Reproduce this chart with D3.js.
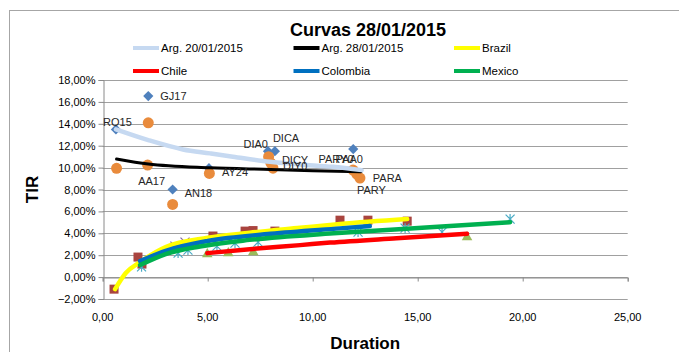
<!DOCTYPE html>
<html><head><meta charset="utf-8">
<script src="https://cdn.jsdelivr.net/npm/d3@7"></script>
<style>body{margin:0;background:#fff}svg{display:block}text{font-family:"Liberation Sans",Arial,sans-serif}</style>
</head><body>
<script>
// ---------- data ----------
const title = "Curvas 28/01/2015";
const xTicks = [0, 5, 10, 15, 20, 25];
const yTicks = [-2, 0, 2, 4, 6, 8, 10, 12, 14, 16, 18];

// Argentina bonds (diamonds, labelled) - duration, TIR %
const bondNames = ["RO15","GJ17","AA17","AN18","AY24","DIA0","DICA","DICY","DIY0","PARY0","PAA0","PARA","PARY"];
const bondDur   = [0.63, 2.17, 2.14, 3.33, 5.06, 7.87, 8.20, 8.01, 8.11, 11.92, 11.93, 12.10, 12.25];
const bondTir   = [13.49,16.53,10.23, 8.00, 9.95,11.50,11.50,10.40, 9.95, 9.77, 11.69, 9.40, 9.04];
// Argentina bonds 28/01 (circles)
const arg2Dur = [0.66, 2.17, 2.14, 3.33, 5.08, 7.90, 8.01, 8.11, 11.92, 12.10, 12.25];
const arg2Tir = [9.93, 14.09, 10.23, 6.64, 9.47, 11.00, 10.40, 9.95, 9.77, 9.40, 9.04];

// regional bonds
const brazilDur = [0.54, 1.68, 1.87, 3.50, 5.25, 6.78, 7.16, 8.20, 11.30, 12.63, 14.50];
const brazilTir = [-1.10, 1.83, 1.19, 2.70, 3.75, 4.20, 4.25, 4.20, 5.20, 5.20, 5.11];
const chileDur = [4.98, 5.98, 7.17, 17.35];
const chileTir = [2.10, 2.19, 2.28, 3.65];
const colombiaDur = [3.44, 3.92];
const colombiaTir = [2.83, 3.20];
const mexicoDur = [1.85, 3.59, 4.06, 5.44, 6.30, 7.40, 12.16, 14.40, 16.16, 19.40];
const mexicoTir = [0.94, 2.19, 2.47, 2.83, 3.10, 3.20, 4.11, 4.47, 4.11, 5.30];

// trend curves
const trendArg1Dur = [0.63, 2.17, 3.82, 5.11, 6.20, 7.97, 9.40, 10.96, 12.33];
const trendArg1Tir = [13.49, 12.51, 11.66, 11.30, 11.00, 10.53, 10.29, 10.07, 9.77];
const trendArg2Dur = [0.66, 2.17, 5.10, 8.00, 10.00, 12.30];
const trendArg2Tir = [10.78, 10.32, 9.98, 9.83, 9.72, 9.62];
const trendBrazilDur = [0.59, 1.10, 1.78, 3.00, 5.00, 7.00, 9.40, 11.30, 14.50];
const trendBrazilTir = [-1.10, 0.37, 1.37, 2.75, 3.60, 4.05, 4.50, 4.85, 5.30];
const trendChileDur = [4.98, 7.00, 9.40, 10.83, 14.00, 17.35];
const trendChileTir = [2.19, 2.55, 2.92, 3.15, 3.55, 3.95];
const trendColDur = [1.78, 3.00, 5.00, 8.00, 11.30, 12.72];
const trendColTir = [1.46, 2.40, 3.30, 3.95, 4.45, 4.66];
const trendMexDur = [1.78, 3.00, 4.63, 7.00, 11.00, 15.58, 19.40];
const trendMexTir = [1.10, 2.10, 2.80, 3.40, 4.00, 4.55, 5.02];

const legendNames = ["Arg. 20/01/2015","Arg. 28/01/2015","Brazil","Chile","Colombia","Mexico"];

// ---------- styles ----------
const labelOffsets = [[1.5,-7,"middle"],[12,0,"start"],[4,16,"middle"],[12,3,"start"],[13,4,"start"],
  [0,-7,"end"],[-2,-13,"start"],[11,-3,"start"],[10,-2,"start"],[-17,-11,"middle"],[-4,10,"middle"],
  [16,4,"start"],[11.5,12,"middle"]];
const legendColors = ["#C6D9F1","#000000","#FFFF00","#FF0000","#0070C0","#00B050"];
const W = 679, H = 352;

const svg = d3.select("body").append("svg").attr("width", W).attr("height", H);
svg.append("rect").attr("x",9.5).attr("y",10.5).attr("width",760).attr("height",400)
  .attr("fill","#fff").attr("stroke","#a6a6a6");

const x = d3.scaleLinear().domain([0,25]).range([102.7,627.7]);
const y = d3.scaleLinear().domain([-2,18]).range([299,80]);

// gridlines
svg.append("g").selectAll("line").data(yTicks).join("line")
  .attr("x1",x(0)).attr("x2",x(25)).attr("y1",d=>Math.round(y(d))+0.5).attr("y2",d=>Math.round(y(d))+0.5)
  .attr("stroke","#a0a0a0").attr("stroke-width",1);

// y axis
const fmt = d => d3.format(".2f")(d).replace(".", ",");
const yAxis = svg.append("g").attr("transform",`translate(${Math.round(x(0))+0.5},0)`)
  .call(d3.axisLeft(y).tickValues(yTicks).tickSize(5).tickPadding(3).tickFormat(d=>fmt(d)+"%"));
yAxis.selectAll("path,line").attr("stroke","#8a8a8a");
yAxis.selectAll("text").attr("font-size",11).attr("fill","#000").style("font-family",'"Liberation Sans",Arial,sans-serif');

// x axis at 0 with tick marks; labels at bottom
const xAxis = svg.append("g").attr("transform",`translate(0,${Math.round(y(0))+0.5})`)
  .call(d3.axisBottom(x).tickValues(xTicks).tickSize(4).tickFormat(""));
xAxis.selectAll("path,line").attr("stroke","#8a8a8a");
svg.append("g").selectAll("text").data(xTicks).join("text")
  .attr("x",d=>x(d)).attr("y",y(-2)+22).attr("text-anchor","middle")
  .attr("font-size",11).attr("fill","#000").text(d=>fmt(d));

// axis titles
svg.append("text").attr("x",(x(0)+x(25))/2).attr("y",349).attr("text-anchor","middle")
  .attr("font-size",17).attr("font-weight","bold").text("Duration");
svg.append("text").attr("transform",`translate(38,${(y(-2)+y(18))/2}) rotate(-90)`).attr("text-anchor","middle")
  .attr("font-size",17).attr("font-weight","bold").text("TIR");

// title
svg.append("text").attr("x",368).attr("y",36).attr("text-anchor","middle")
  .attr("font-size",18).attr("font-weight","bold").text(title);

// legend
legendNames.forEach((n,i)=>{
  const col = i%3, row = Math.floor(i/3);
  const lx = 133 + col*160.5, ly = 48 + row*23;
  svg.append("line").attr("x1",lx).attr("x2",lx+26).attr("y1",ly).attr("y2",ly)
    .attr("stroke",legendColors[i]).attr("stroke-width",4);
  svg.append("text").attr("x",lx+28).attr("y",ly+4).attr("font-size",11.5).attr("fill","#000").text(n);
});

const plot = svg.append("g");
const zip = (a,b)=>a.map((v,i)=>[v,b[i]]);

// markers: diamonds (Arg)
plot.append("g").selectAll("path").data(zip(bondDur,bondTir)).join("path")
  .attr("d", d3.symbol(d3.symbolSquare, 52)())
  .attr("transform",d=>`translate(${x(d[0])},${y(d[1])}) rotate(45)`)
  .attr("fill","#4F81BD");
// circles
plot.append("g").selectAll("circle").data(zip(arg2Dur,arg2Tir)).join("circle")
  .attr("cx",d=>x(d[0])).attr("cy",d=>y(d[1])).attr("r",5.5).attr("fill","#E98B3C");
// Brazil squares
plot.append("g").selectAll("rect").data(zip(brazilDur,brazilTir)).join("rect")
  .attr("x",d=>x(d[0])-4.5).attr("y",d=>y(d[1])-4.5).attr("width",9).attr("height",9).attr("fill","#A9443F");
// Chile triangles
plot.append("g").selectAll("path").data(zip(chileDur,chileTir)).join("path")
  .attr("d", d3.symbol(d3.symbolTriangle, 48)())
  .attr("transform",d=>`translate(${x(d[0])},${y(d[1])})`).attr("fill","#9BBB59");
// Colombia X
plot.append("g").selectAll("path").data(zip(colombiaDur,colombiaTir)).join("path")
  .attr("d","M-4.5,-4.5L4.5,4.5M-4.5,4.5L4.5,-4.5")
  .attr("transform",d=>`translate(${x(d[0])},${y(d[1])})`).attr("stroke","#8064A2").attr("stroke-width",1.2).attr("fill","none");
// Mexico asterisks
plot.append("g").selectAll("path").data(zip(mexicoDur,mexicoTir)).join("path")
  .attr("d","M-4.5,-4.5L4.5,4.5M-4.5,4.5L4.5,-4.5M0,-5L0,5")
  .attr("transform",d=>`translate(${x(d[0])},${y(d[1])})`).attr("stroke","#4BACC6").attr("stroke-width",1.2).attr("fill","none");

// trend curves
const line = d3.line().x(d=>x(d[0])).y(d=>y(d[1])).curve(d3.curveMonotoneX);
const trends = [
  [trendArg2Dur,trendArg2Tir,legendColors[1],3],
  [trendArg1Dur,trendArg1Tir,legendColors[0],4.5],
  [trendBrazilDur,trendBrazilTir,legendColors[2],4.5],
  [trendChileDur,trendChileTir,legendColors[3],4.5],
  [trendColDur,trendColTir,legendColors[4],4.5],
  [trendMexDur,trendMexTir,legendColors[5],4.5]
];
trends.forEach(t=>{
  plot.append("path").datum(zip(t[0],t[1])).attr("d",line).attr("fill","none")
    .attr("stroke",t[2]).attr("stroke-width",t[3]).attr("stroke-linecap","round");
});

// data labels
plot.append("g").selectAll("text").data(bondNames).join("text")
  .attr("x",(d,i)=>x(bondDur[i])+labelOffsets[i][0])
  .attr("y",(d,i)=>y(bondTir[i])+labelOffsets[i][1]+4)
  .attr("text-anchor",(d,i)=>labelOffsets[i][2])
  .attr("font-size",11).attr("fill","#262626").text(d=>d);
</script>
</body></html>
